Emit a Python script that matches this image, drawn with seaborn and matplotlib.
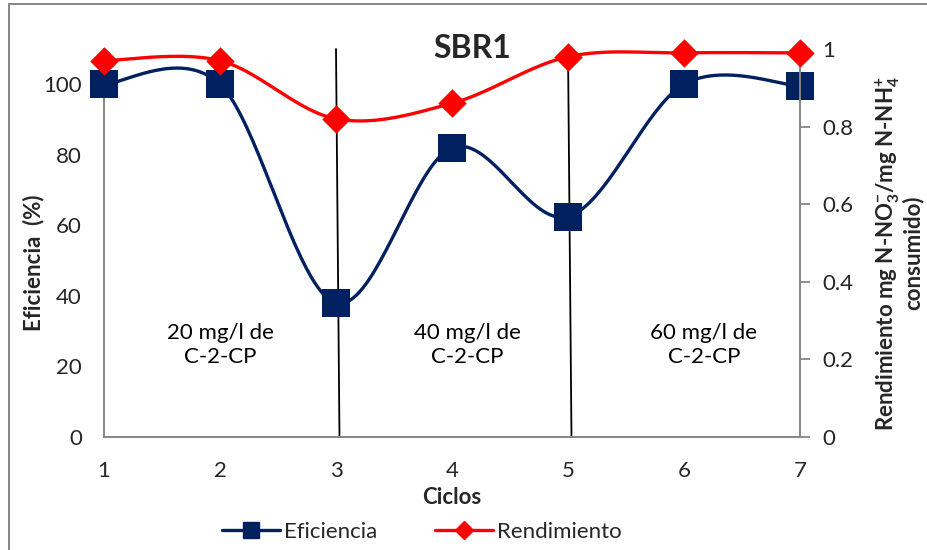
import numpy as np
import matplotlib
matplotlib.use("Agg")
import matplotlib.pyplot as plt
from matplotlib.lines import Line2D
from matplotlib.patches import Rectangle
import seaborn as sns
import pandas as pd

# ---- data ----
ciclos = [1, 2, 3, 4, 5, 6, 7]
eficiencia = [100, 100, 38, 82, 62.5, 100, 99.5]
rendimiento = [0.97, 0.97, 0.82, 0.86, 0.98, 0.99, 0.99]
left_ticks = [0, 20, 40, 60, 80, 100]
right_ticks = [0, 0.2, 0.4, 0.6, 0.8, 1.0]
right_tick_labels = ["0", "0.2", "0.4", "0.6", "0.8", "1"]
phase_labels = ["20 mg/l de\nC-2-CP", "40 mg/l de\nC-2-CP", "60 mg/l de\nC-2-CP"]
phase_x = [2.0, 4.13, 6.17]
divider_x = [3, 5]

BLUE = "#002060"
RED = "#FF0000"
GRAY = "#868686"

sns.set_theme(style="white")
plt.rcParams["font.family"] = ["Lato", "DejaVu Sans"]
plt.rcParams["mathtext.fontset"] = "custom"
plt.rcParams["mathtext.rm"] = "Lato:bold"
plt.rcParams["mathtext.bf"] = "Lato:bold"
plt.rcParams["mathtext.it"] = "Lato:bold"


def smooth(xs, ys, n=40):
    """Excel-style smoothed line (Catmull-Rom Bezier) through the given points."""
    xs = np.asarray(xs, float)
    ys = np.asarray(ys, float)
    P = np.column_stack([xs, ys])
    Pext = np.vstack([P[0], P, P[-1]])
    out = []
    t = np.linspace(0, 1, n)[:, None]
    for i in range(len(P) - 1):
        p0, p1, p2, p3 = Pext[i], Pext[i + 1], Pext[i + 2], Pext[i + 3]
        c1 = p1 + (p2 - p0) / 6.0
        c2 = p2 - (p3 - p1) / 6.0
        seg = ((1 - t) ** 3) * p1 + 3 * ((1 - t) ** 2) * t * c1 + 3 * (1 - t) * t ** 2 * c2 + t ** 3 * p2
        out.append(seg if i == 0 else seg[1:])
    s = np.vstack(out)
    return s[:, 0], s[:, 1]


W, H = 927, 550
fig = plt.figure(figsize=(W / 100, H / 100), dpi=100)
ax = fig.add_axes([104 / W, 1 - 437 / H, (800 - 104) / W, (437 - 49) / H])
ax2 = ax.twinx()

df = pd.DataFrame({"ciclo": ciclos, "eficiencia": eficiencia, "rendimiento": rendimiento})

# smoothed lines
sx, sy = smooth(ciclos, eficiencia)
ax.plot(sx, sy, color=BLUE, lw=2.4, zorder=3, clip_on=False)
rx, ry = smooth(ciclos, rendimiento)
ax2.plot(rx, ry, color=RED, lw=2.4, zorder=3, clip_on=False)

# markers via seaborn
sns.scatterplot(data=df, x="ciclo", y="eficiencia", ax=ax, marker="s", s=20 ** 2,
                color=BLUE, edgecolor=BLUE, linewidth=0, zorder=4, clip_on=False, legend=False)
sns.scatterplot(data=df, x="ciclo", y="rendimiento", ax=ax2, marker="D", s=14.5 ** 2,
                color=RED, edgecolor=RED, linewidth=0, zorder=4, clip_on=False, legend=False)

# phase dividers
for xd in divider_x:
    ax.plot([xd, xd + 0.03], [110, 0], color="black", lw=1.3, zorder=2, clip_on=False)

for xp, lab in zip(phase_x, phase_labels):
    ax.text(xp, 26, lab, ha="center", va="center", fontsize=16, color="black", linespacing=1.25)

ax.set_xlim(1, 7)
ax.set_ylim(0, 110)
ax2.set_ylim(0, 1.0)

ax.set_xticks(ciclos)
ax.set_xticklabels([str(c) for c in ciclos], fontsize=16)
ax.set_yticks(left_ticks)
ax.set_yticklabels([str(v) for v in left_ticks], fontsize=16)
ax2.set_yticks(right_ticks)
ax2.set_yticklabels(right_tick_labels, fontsize=16)

ax.tick_params(axis="x", length=0, pad=17)
ax.tick_params(axis="y", length=0, pad=16)
ax2.tick_params(axis="y", length=7, width=1.3, color=GRAY, direction="out", pad=9, right=True)

for a in (ax, ax2):
    a.set_facecolor("none")
    a.spines["top"].set_visible(False)
    for s in ("left", "bottom", "right"):
        a.spines[s].set_color(GRAY)
        a.spines[s].set_linewidth(1.4)
ax.spines["right"].set_visible(False)
ax2.spines["left"].set_visible(False)
ax2.spines["bottom"].set_visible(False)
ax.set_xlabel("")
ax.set_ylabel("")
ax2.set_ylabel("")
ax.grid(False)
ax2.grid(False)

# labels
fig.text(472 / W, 1 - 49 / H, "SBR1", ha="center", va="center", fontsize=23, fontweight="bold")
fig.text(452 / W, 1 - 497 / H, "Ciclos", ha="center", va="center", fontsize=16, fontweight="bold")
fig.text(34 / W, 1 - 263 / H, "Eficiencia  (%)", ha="center", va="center", rotation=90,
         fontsize=16, fontweight="bold")
fig.text(899 / W, 1 - 253 / H,
         "Rendimiento mg N-NO$_{3}^{-}$/mg N-NH$_{4}^{+}$\nconsumido)",
         ha="center", va="center", rotation=90, fontsize=16, fontweight="bold",
         multialignment="center", linespacing=1.0)

# legend
handles = [
    Line2D([], [], color=BLUE, lw=2.4, marker="s", markersize=11, markerfacecolor=BLUE, markeredgecolor=BLUE),
    Line2D([], [], color=RED, lw=2.4, marker="D", markersize=9, markerfacecolor=RED, markeredgecolor=RED),
]
fig.legend(handles, ["Eficiencia", "Rendimiento"], loc="center", bbox_to_anchor=(422 / W, 1 - 532 / H),
           ncol=2, frameon=False, fontsize=16, handlelength=2.6, handletextpad=0.2, columnspacing=2.6)

# chart border
fig.patches.append(Rectangle((9 / W, -0.1), 1.2, 1 - 4 / H + 0.1, transform=fig.transFigure,
                             fill=False, edgecolor=GRAY, lw=1.4, zorder=0))

fig.savefig("out.png", dpi=100)
